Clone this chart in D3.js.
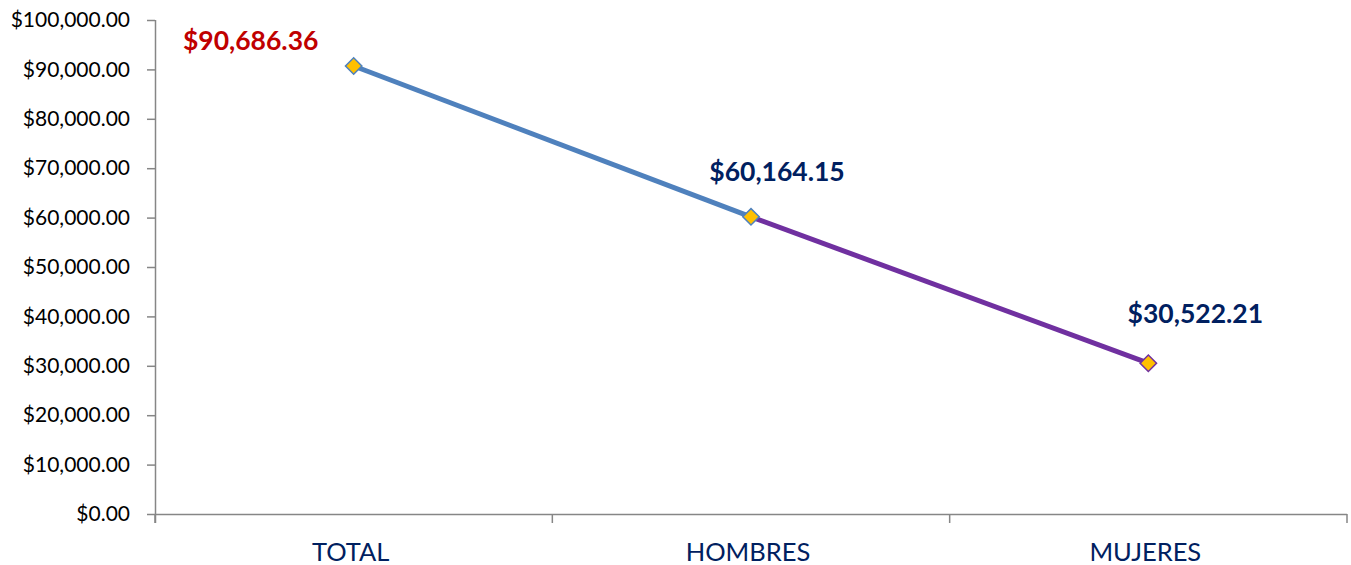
<!DOCTYPE html>
<html>
<head>
<meta charset="utf-8">
<script src="https://cdn.jsdelivr.net/npm/d3@7"></script>
<style>
  body { margin: 0; background: #fff; }
  svg { display: block; }
  svg text { font-family: Lato, "Open Sans", sans-serif; }
</style>
</head>
<body>
<svg id="chart" width="1351" height="565"></svg>
<script>
// datos
const categories = ['TOTAL', 'HOMBRES', 'MUJERES']
const values = [90686.36, 60164.15, 30522.21]
const yTicks = [0, 10000, 20000, 30000, 40000, 50000, 60000, 70000, 80000, 90000, 100000]
const segmentColors = ['#4F81BD', '#7030A0']   // color de cada tramo
const labelColors = ['#C00000', '#002060', '#002060']

const margin = { top: 20, right: 4, bottom: 51, left: 155 }
const width = 1351
const height = 565

const svg = d3.select('#chart')

const x = d3.scaleBand()
  .domain(categories)
  .range([margin.left, width - margin.right])

const y = d3.scaleLinear()
  .domain([0, 100000])
  .range([height - margin.bottom, margin.top])

const money = d3.format('$,.2f')
const axisColor = '#868686'

// eje Y
const yAxis = svg.append('g')
  .attr('transform', `translate(${margin.left},0)`)
  .call(d3.axisLeft(y).tickValues(yTicks).tickSize(8).tickPadding(17).tickFormat(money))
yAxis.attr('font-family', null)
yAxis.select('.domain').remove()
yAxis.append('line')
  .attr('x1', 0.5).attr('x2', 0.5)
  .attr('y1', y(100000)).attr('y2', y(0) + 9)
  .attr('stroke', axisColor).attr('stroke-width', 1.5)
yAxis.selectAll('.tick line').attr('stroke', axisColor).attr('stroke-width', 1.5)
yAxis.selectAll('.tick text')
  .attr('fill', '#000')
  .style('font-size', '21px')

// eje X
const xAxis = svg.append('g')
  .attr('transform', `translate(0,${y(0)})`)
xAxis.append('line')
  .attr('x1', margin.left).attr('x2', width - margin.right)
  .attr('y1', 0.5).attr('y2', 0.5)
  .attr('stroke', axisColor).attr('stroke-width', 1.5)
const bounds = categories.map(c => x(c)).concat([width - margin.right])
xAxis.selectAll('line.tk')
  .data(bounds)
  .enter()
  .append('line')
  .attr('class', 'tk')
  .attr('x1', d => d).attr('x2', d => d)
  .attr('y1', 0).attr('y2', 9)
  .attr('stroke', axisColor).attr('stroke-width', 1.5)
xAxis.selectAll('text')
  .data(categories)
  .enter()
  .append('text')
  .attr('x', d => x(d) + x.bandwidth() / 2 - 3)
  .attr('y', 47)
  .attr('text-anchor', 'middle')
  .attr('fill', '#002060')
  .style('font-size', '25.5px')
  .text(d => d)

// puntos
const pts = categories.map((c, i) => ({
  cat: c,
  value: values[i],
  px: x(c) + x.bandwidth() / 2,
  py: y(values[i])
}))

// tramos de linea
const segs = d3.pairs(pts)
svg.append('g')
  .selectAll('line')
  .data(segs)
  .enter()
  .append('line')
  .attr('x1', d => d[0].px).attr('y1', d => d[0].py)
  .attr('x2', d => d[1].px).attr('y2', d => d[1].py)
  .attr('stroke', (d, i) => segmentColors[i])
  .attr('stroke-width', 5)

// marcadores rombo
const diamond = d3.symbol().type(d3.symbolSquare).size(135)
svg.append('g')
  .selectAll('path')
  .data(pts)
  .enter()
  .append('path')
  .attr('d', diamond)
  .attr('transform', d => `translate(${d.px},${d.py}) rotate(45)`)
  .attr('fill', '#FFC000')
  .attr('stroke', (d, i) => i < 2 ? '#4F81BD' : '#7030A0')
  .attr('stroke-width', 1.5)

// etiquetas
const labelOffset = [[-103, -16], [26, -36], [47, -40]]
svg.append('g')
  .selectAll('text')
  .data(pts)
  .enter()
  .append('text')
  .attr('x', (d, i) => d.px + labelOffset[i][0])
  .attr('y', (d, i) => d.py + labelOffset[i][1])
  .attr('text-anchor', 'middle')
  .attr('fill', (d, i) => labelColors[i])
  .style('font-size', '26.5px')
  .style('font-weight', 'bold')
  .text(d => money(d.value))
</script>
</body>
</html>
